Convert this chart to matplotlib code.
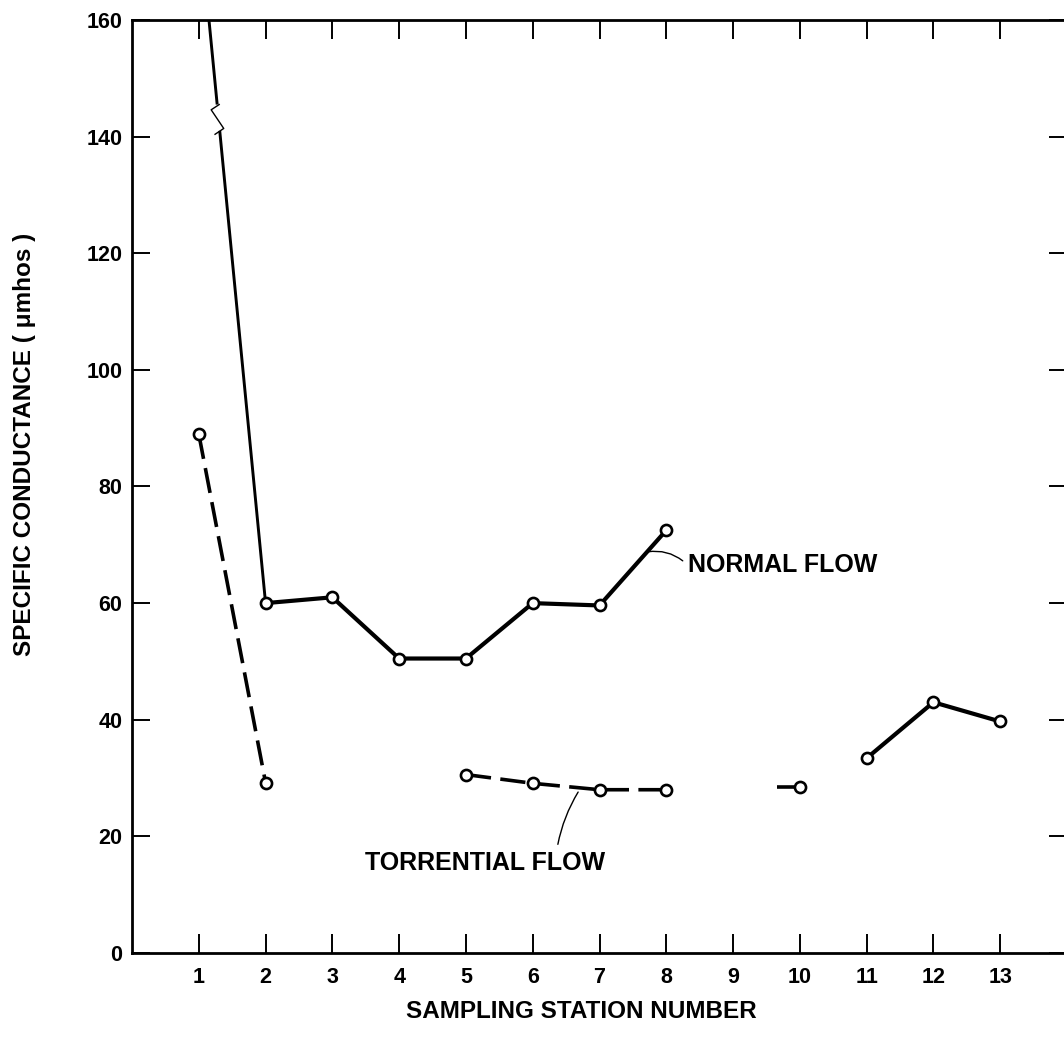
import numpy as np
import matplotlib
matplotlib.use("Agg")
import matplotlib.pyplot as plt

plt.rcParams["font.family"] = ["Liberation Sans", "DejaVu Sans"]
plt.rcParams["font.weight"] = "bold"

# stations along the stream
stations = list(range(1, 14))
yticks = [0, 20, 40, 60, 80, 100, 120, 140, 160]

# normal flow (station 1 is off scale, drawn through a break in the line)
normal_a_x = [1, 2, 3, 4, 5, 6, 7, 8]
normal_a_y = [178, 60, 61, 50.5, 50.5, 60, 59.6, 72.5]
normal_b_x = [11, 12, 13]
normal_b_y = [33.4, 43, 39.7]

# torrential flow
torrent_a_x = [1, 2]
torrent_a_y = [89, 29.2]
torrent_b_x = [5, 6, 7, 8]
torrent_b_y = [30.6, 29.1, 28.0, 28.0]
torrent_c_x = [9.66, 10]   # short stub ending at station 10
torrent_c_y = [28.4, 28.4]

# where the off-scale segment is broken
break_top, break_bot = 145.5, 141.0

fig = plt.figure(figsize=(10.64, 10.48), dpi=100)
ax = fig.add_axes([132 / 1064, 95 / 1048, 935 / 1064, 933 / 1048])
ax.set_xlim(0, 14)
ax.set_ylim(0, 160)

mk = dict(marker="o", markersize=8, markerfacecolor="white",
          markeredgecolor="black", markeredgewidth=1.9)

# normal flow lines
ax.plot(normal_a_x[:2], normal_a_y[:2], color="black", lw=2.1,
        solid_capstyle="butt", zorder=2)
ax.plot(normal_a_x[1:], normal_a_y[1:], color="black", lw=3.0, zorder=2)
ax.plot(normal_b_x, normal_b_y, color="black", lw=3.0, zorder=2)
ax.plot(normal_a_x[1:], normal_a_y[1:], ls="none", zorder=4, **mk)
ax.plot(normal_b_x, normal_b_y, ls="none", zorder=4, **mk)

# break marks on the off-scale segment
seg_y = np.array(normal_a_y[:2][::-1])
seg_x = np.array(normal_a_x[:2][::-1])
xt = np.interp(break_top, seg_y, seg_x)
xb = np.interp(break_bot, seg_y, seg_x)
ax.plot([xt, xb], [break_top, break_bot], color="white", lw=5, zorder=3,
        solid_capstyle="butt")
ax.plot([xt + 0.03, xt - 0.09, xb + 0.06, xb - 0.07],
        [break_top, break_top - 0.9, break_bot + 0.4, break_bot - 0.6],
        color="black", lw=1.0, zorder=3)

# torrential flow lines
dash = (0, (7, 2.6))
for xs, ys in [(torrent_a_x, torrent_a_y), (torrent_b_x, torrent_b_y),
               (torrent_c_x, torrent_c_y)]:
    ax.plot(xs, ys, color="black", lw=2.6, ls=dash, zorder=2)
ax.plot(torrent_a_x, torrent_a_y, ls="none", zorder=4, **mk)
ax.plot(torrent_b_x, torrent_b_y, ls="none", zorder=4, **mk)
ax.plot(torrent_c_x[-1:], torrent_c_y[-1:], ls="none", zorder=4, **mk)

# labels on the curves
ax.annotate("NORMAL FLOW", xy=(7.72, 68.8), xytext=(8.32, 66.5),
            fontsize=18, ha="left", va="center",
            arrowprops=dict(arrowstyle="-", lw=1.0, color="black",
                            relpos=(0, 0.5), shrinkA=2, shrinkB=0,
                            connectionstyle="arc3,rad=0.25"))
ax.annotate("TORRENTIAL FLOW", xy=(6.68, 27.6), xytext=(5.28, 15.4),
            fontsize=18, ha="center", va="center",
            arrowprops=dict(arrowstyle="-", lw=1.0, color="black",
                            relpos=(0.8, 1), shrinkA=3, shrinkB=0,
                            connectionstyle="arc3,rad=-0.1"))

# axes styling
ax.set_xticks(stations)
ax.set_xticklabels([str(s) for s in stations])
ax.set_yticks(yticks)
ax.set_yticklabels([str(v) for v in yticks])
ax.tick_params(axis="x", direction="in", length=14, width=1.4,
               top=True, labelsize=15.5, pad=10)
ax.tick_params(axis="y", direction="in", length=13, width=1.4,
               right=True, labelsize=15.5, pad=7)
for side in ["left", "bottom", "top", "right"]:
    ax.spines[side].set_linewidth(2.0)

fig.text(581 / 1064, 1 - 1012 / 1048, "SAMPLING STATION NUMBER",
         fontsize=17.5, ha="center", va="center")
fig.text(25 / 1064, 1 - 444 / 1048, "SPECIFIC CONDUCTANCE ( \u03bcmhos )",
         fontsize=17.5, ha="center", va="center", rotation=90)

fig.savefig("out.png", dpi=100)
